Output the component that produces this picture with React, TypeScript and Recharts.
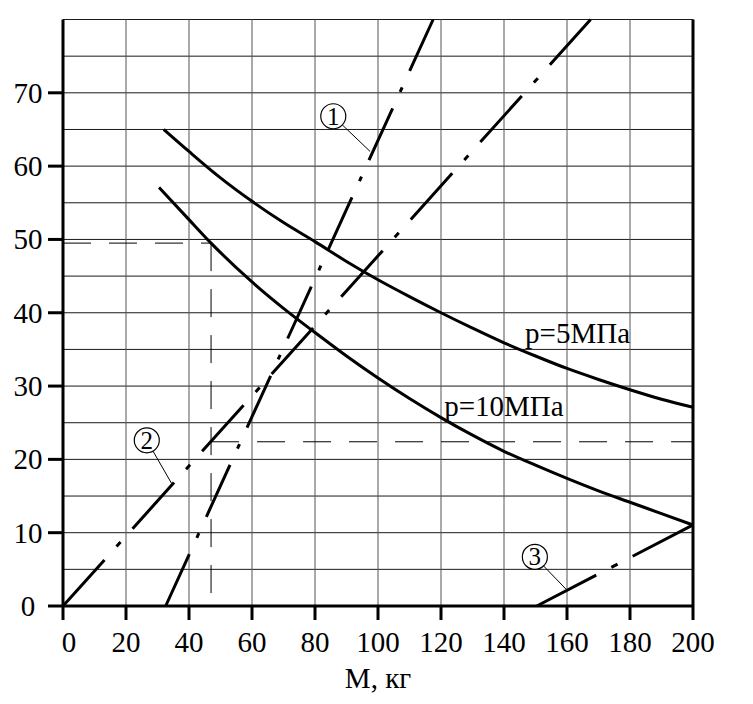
import { LineChart, Line, XAxis, YAxis, ReferenceLine, ReferenceDot } from "recharts"

const FONT = "'Liberation Serif', 'Times New Roman', Times, serif"
const textStyle = { fontFamily: FONT, fontSize: 29, fill: "#000" }

// axes
const massTicks = [0, 20, 40, 60, 80, 100, 120, 140, 160, 180, 200]
const leftTicks = [0, 10, 20, 30, 40, 50, 60, 70]
const rightTicks = [0, 10, 20, 30, 40]
const gridRows = [5, 10, 15, 20, 25, 30, 35, 40, 45, 50, 55, 60, 65, 70, 75, 80]
const gridCols = [20, 40, 60, 80, 100, 120, 140, 160, 180, 200]

// p = 5 MPa
const p5Mass = [32, 40, 50, 60, 70, 80, 90, 100, 110, 120, 130, 140, 150, 160, 170, 180, 190, 200]
const p5Value = [65, 62.0, 58.4, 55.2, 52.3, 49.7, 47.0, 44.5, 42.2, 40.0, 37.9, 35.9, 34.1, 32.4, 30.9, 29.5, 28.2, 27.1]

// p = 10 MPa
const p10Mass = [30.5, 40, 47, 60, 70, 80, 90, 100, 110, 120, 130, 140, 150, 160, 170, 180, 190, 200]
const p10Value = [57.1, 52.7, 49.5, 44.2, 40.6, 37.3, 34.1, 31.1, 28.3, 25.7, 23.3, 21.1, 19.2, 17.4, 15.7, 14.15, 12.6, 11.05]

// dash-dot lines 1, 2, 3
const line1Mass = [32.6, 117.5]
const line1Value = [0, 80]
const line2Mass = [0, 167.5]
const line2Value = [0, 80]
const line3Mass = [150.4, 200]
const line3Value = [0, 11.05]

// worked example (dashed guides)
const guideMass = 47
const guideUpper = 49.5
const guideLower = 22.4

// circled markers: number, circle centre, leader end
const markNums = ["1", "2", "3"]
const markMass = [85.8, 26.6, 149.8]
const markValue = [66.8, 22.6, 6.7]
const leaderMass = [97.5, 34.5, 159.9]
const leaderValue = [62, 16.7, 2.2]

const pts = (xs: number[], ys: number[]) => xs.map((x, i) => ({ x, y: ys[i] }))

function LeftTick({ x, y, payload }: any) {
  return (
    <text x={x - 20} y={y + 10} textAnchor="middle" style={textStyle}>
      {payload.value}
    </text>
  )
}

function RightTick({ x, y, payload }: any) {
  return (
    <text x={x + 9} y={y + (payload.value === 0 ? 2 : 12)} textAnchor="start" style={textStyle}>
      {payload.value}
    </text>
  )
}

function BottomTick({ x, y, payload }: any) {
  return (
    <text x={x + (payload.value === 0 ? 6 : 0)} y={y + 32} textAnchor="middle" style={textStyle}>
      {payload.value}
    </text>
  )
}

function Marker({ x1, y1, x2, y2, n }: any) {
  const r = 12.5
  const len = Math.hypot(x2 - x1, y2 - y1) || 1
  const sx = x1 + ((x2 - x1) / len) * r
  const sy = y1 + ((y2 - y1) / len) * r
  return (
    <g>
      <line x1={sx} y1={sy} x2={x2} y2={y2} stroke="#000" strokeWidth={1} />
      <circle cx={x1} cy={y1} r={r} fill="#fff" stroke="#000" strokeWidth={1.2} />
      <text x={x1} y={y1 + 8.5} textAnchor="middle" style={{ ...textStyle, fontSize: 25 }}>
        {n}
      </text>
    </g>
  )
}

const axisStroke = { stroke: "#000", strokeWidth: 3 }

export default function App() {
  return (
    <div style={{ position: "absolute", left: 0, top: 0, width: 753, height: 704, background: "#fff" }}>
      <LineChart width={753} height={704} margin={{ top: 19.5, right: 0, bottom: 0, left: 0 }}>
        <XAxis
          dataKey="x"
          type="number"
          domain={[0, 200]}
          ticks={massTicks}
          interval={0}
          height={98}
          tickSize={14}
          tickMargin={0}
          axisLine={axisStroke}
          tickLine={axisStroke}
          tick={<BottomTick />}
          label={{
            content: ({ viewBox }: any) => (
              <text x={viewBox.x + viewBox.width / 2} y={viewBox.y + 82} textAnchor="middle" style={textStyle}>
                M, кг
              </text>
            ),
          }}
        />
        <YAxis
          yAxisId="left"
          type="number"
          domain={[0, 80]}
          ticks={leftTicks}
          interval={0}
          width={63}
          tickSize={15}
          tickMargin={0}
          axisLine={axisStroke}
          tickLine={axisStroke}
          tick={<LeftTick />}
        />
        <YAxis
          yAxisId="right"
          orientation="right"
          type="number"
          domain={[0, 40]}
          ticks={rightTicks}
          interval={0}
          width={60}
          tickSize={15}
          tickMargin={0}
          axisLine={axisStroke}
          tickLine={axisStroke}
          tick={<RightTick />}
        />

        {gridRows.map((v) => (
          <ReferenceLine key={`r${v}`} yAxisId="left" y={v} stroke="#1a1a1a" strokeWidth={1} />
        ))}
        {gridCols.map((v) => (
          <ReferenceLine key={`c${v}`} yAxisId="left" x={v} stroke="#555" strokeWidth={1} />
        ))}

        <ReferenceLine
          yAxisId="left"
          segment={[{ x: 0, y: guideUpper }, { x: guideMass, y: guideUpper }]}
          stroke="#000"
          strokeWidth={1}
          strokeDasharray="28 18"
        />
        <ReferenceLine
          yAxisId="left"
          segment={[{ x: guideMass, y: guideUpper }, { x: guideMass, y: 0 }]}
          stroke="#000"
          strokeWidth={1}
          strokeDasharray="28 18"
        />
        <ReferenceLine
          yAxisId="left"
          segment={[{ x: guideMass, y: guideLower }, { x: 200, y: guideLower }]}
          stroke="#000"
          strokeWidth={1}
          strokeDasharray="28 18"
        />

        <Line yAxisId="left" data={pts(p5Mass, p5Value)} dataKey="y" type="monotone" stroke="#000" strokeWidth={3} dot={false} isAnimationActive={false} />
        <Line yAxisId="left" data={pts(p10Mass, p10Value)} dataKey="y" type="monotone" stroke="#000" strokeWidth={3} dot={false} isAnimationActive={false} />
        <Line yAxisId="left" data={pts(line1Mass, line1Value)} dataKey="y" type="linear" stroke="#000" strokeWidth={3} strokeDasharray="57 18 5 18" dot={false} isAnimationActive={false} />
        <Line yAxisId="left" data={pts(line2Mass, line2Value)} dataKey="y" type="linear" stroke="#000" strokeWidth={3} strokeDasharray="62 18 6 18" dot={false} isAnimationActive={false} />
        <Line yAxisId="left" data={pts(line3Mass, line3Value)} dataKey="y" type="linear" stroke="#000" strokeWidth={3} strokeDasharray="67 17 7 17" dot={false} isAnimationActive={false} />

        {markNums.map((n, i) => (
          <ReferenceLine
            key={`m${n}`}
            yAxisId="left"
            segment={[{ x: markMass[i], y: markValue[i] }, { x: leaderMass[i], y: leaderValue[i] }]}
            shape={(p: any) => <Marker {...p} n={n} />}
          />
        ))}

        <ReferenceDot
          yAxisId="left"
          x={146.7}
          y={35.9}
          r={0}
          shape={(p: any) => (
            <text x={p.cx} y={p.cy} style={textStyle}>
              p=5МПа
            </text>
          )}
        />
        <ReferenceDot
          yAxisId="left"
          x={121}
          y={25.9}
          r={0}
          shape={(p: any) => (
            <text x={p.cx} y={p.cy} style={textStyle}>
              p=10МПа
            </text>
          )}
        />
      </LineChart>
    </div>
  )
}
